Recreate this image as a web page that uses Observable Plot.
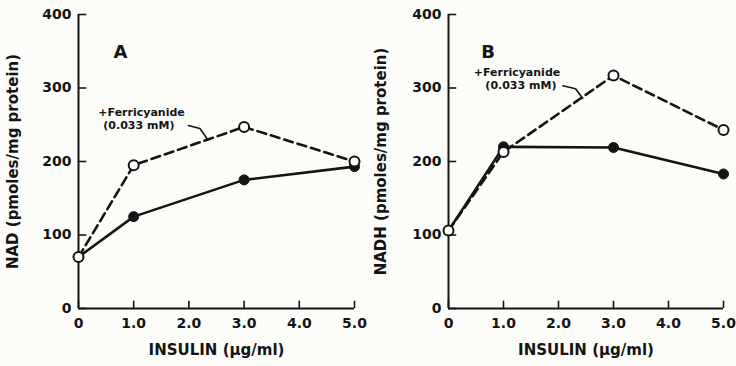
<!DOCTYPE html>
<html><head><meta charset="utf-8">
<script src="https://cdn.jsdelivr.net/npm/d3@7"></script>
<script src="https://cdn.jsdelivr.net/npm/@observablehq/plot@0.6"></script>
<style>
body{margin:0;background:#fcfcf9;}
#c{display:flex;width:736px;height:366px;}
</style></head><body><div id="c"></div>
<script>
// data
const insulin = [0, 1, 3, 5];
const nadControl = [70, 125, 175, 193];
const nadFerri = [70, 195, 247, 200];
const nadhControl = [106, 220, 219, 183];
const nadhFerri = [106, 213, 317, 243];
const xTicks = [0, 1, 2, 3, 4, 5];
const xTickLabels = ["0", "1.0", "2.0", "3.0", "4.0", "5.0"];
const yTicks = [0, 100, 200, 300, 400];
const panelLetters = ["A", "B"];
const yTitles = ["NAD (pmoles/mg protein)", "NADH (pmoles/mg protein)"];
const xTitle = "INSULIN (\u00b5g/ml)";
const annotLines = ["+Ferricyanide", "(0.033 mM)"];
// annotation anchors in data units
const annotA = {l1: [0.36, 267], l2: [0.45, 249], leader: [[1.99, 249], [2.2, 245], [2.33, 231]], letter: [0.76, 348]};
const annotB = {l1: [0.46, 321], l2: [0.67, 303], leader: [[2.08, 303], [2.31, 299], [2.44, 286]], letter: [0.72, 348]};

const ink = "#141414";
const font = "DejaVu Sans";

function panel(ctrl, ferri, letterIdx, annot, mLeft, mRight) {
  const ctrlData = insulin.map((x, i) => ({x, y: ctrl[i]}));
  const ferriData = insulin.map((x, i) => ({x, y: ferri[i]}));
  return Plot.plot({
    width: 368, height: 366,
    marginLeft: mLeft, marginRight: mRight, marginTop: 14, marginBottom: 58,
    x: {domain: [0, 5]},
    y: {domain: [0, 400]},
    style: {background: "transparent", fontFamily: font, color: ink, overflow: "visible"},
    marks: [
      Plot.axisX({ticks: xTicks, tickFormat: (d) => xTickLabels[xTicks.indexOf(d)], tickSize: 0, tickPadding: 10, label: null, fontSize: 14, fontWeight: "bold", letterSpacing: "0.5px"}),
      Plot.axisY({ticks: yTicks, tickFormat: d => String(d), tickSize: 0, tickPadding: 7, label: null, fontSize: 14, fontWeight: "bold", letterSpacing: "1.5px"}),
      Plot.ruleX(xTicks, {x: d => d, y1: 0, y2: 10, stroke: ink, strokeWidth: 1.6}),
      Plot.ruleY(yTicks, {y: d => d, x1: 0, x2: 0.15, stroke: ink, strokeWidth: 1.6}),
      Plot.ruleX([0], {stroke: ink, strokeWidth: 2}),
      Plot.ruleY([0], {stroke: ink, strokeWidth: 2}),
      Plot.line(ferriData, {x: "x", y: "y", stroke: ink, strokeWidth: 2.6, strokeDasharray: "9,5"}),
      Plot.line(ctrlData, {x: "x", y: "y", stroke: ink, strokeWidth: 2.6}),
      Plot.dot(ctrlData, {x: "x", y: "y", r: 5, fill: ink, stroke: ink, strokeWidth: 1}),
      Plot.dot(ferriData, {x: "x", y: "y", r: 5, fill: "white", stroke: ink, strokeWidth: 2}),
      Plot.line(annot.leader, {x: d => d[0], y: d => d[1], stroke: ink, strokeWidth: 1.6}),
      Plot.text([annotLines[0]], {x: annot.l1[0], y: annot.l1[1], text: d => d, textAnchor: "start", fontSize: 11, fontWeight: "bold", fill: ink}),
      Plot.text([annotLines[1]], {x: annot.l2[0], y: annot.l2[1], text: d => d, textAnchor: "start", fontSize: 11, fontWeight: "bold", fill: ink, letterSpacing: "0.5px"}),
      Plot.text([panelLetters[letterIdx]], {x: annot.letter[0], y: annot.letter[1], text: d => d, fontSize: 18, fontWeight: "bold", fill: ink}),
      Plot.text([yTitles[letterIdx]], {frameAnchor: "left", textAnchor: "middle", rotate: -90, dx: -(mLeft - 13), text: d => d, fontSize: 15, fontWeight: "bold", fill: ink, letterSpacing: "1.8px"}),
      Plot.text([xTitle], {frameAnchor: "bottom", textAnchor: "middle", dy: 46, text: d => d, fontSize: 15, fontWeight: "bold", fill: ink, letterSpacing: "1.5px"})
    ]
  });
}

const c = document.getElementById("c");
c.append(panel(nadControl, nadFerri, 0, annotA, 78, 14));
c.append(panel(nadhControl, nadhFerri, 1, annotB, 80, 13));
</script>
</body></html>
